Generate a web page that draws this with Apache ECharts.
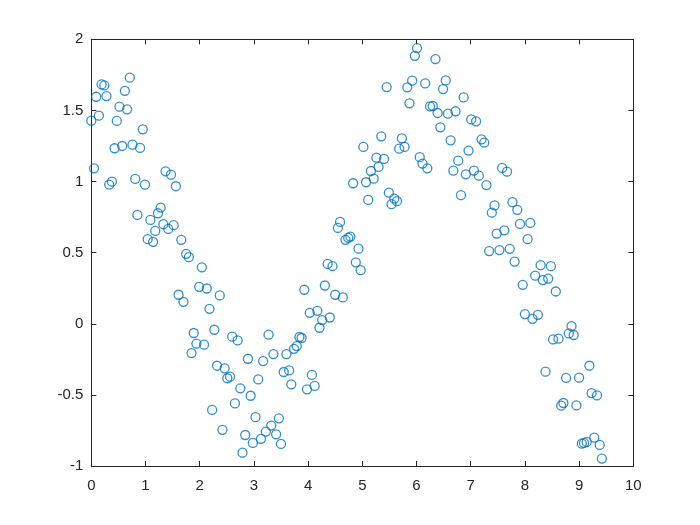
<!DOCTYPE html>
<html>
<head>
<meta charset="utf-8">
<script src="https://cdn.jsdelivr.net/npm/echarts@6/dist/echarts.min.js"></script>
<style>html,body{margin:0;padding:0;background:#fff;}#c{width:700px;height:525px;}</style>
</head>
<body>
<div id="c"></div>
<script>
var xValues = [0.00,0.05,0.09,0.14,0.19,0.24,0.28,0.33,0.38,0.43,0.47,0.52,0.57,0.62,0.66,0.71,0.76,0.81,0.85,0.90,
0.95,0.99,1.04,1.09,1.14,1.18,1.23,1.28,1.33,1.37,1.42,1.47,1.52,1.56,1.61,1.66,1.70,1.75,1.80,1.85,
1.89,1.94,1.99,2.04,2.08,2.13,2.18,2.23,2.27,2.32,2.37,2.42,2.46,2.51,2.56,2.60,2.65,2.70,2.75,2.79,
2.84,2.89,2.94,2.98,3.03,3.08,3.13,3.17,3.22,3.27,3.32,3.36,3.41,3.46,3.50,3.55,3.60,3.65,3.69,3.74,
3.79,3.84,3.88,3.93,3.98,4.03,4.07,4.12,4.17,4.21,4.26,4.31,4.36,4.40,4.45,4.50,4.55,4.59,4.64,4.69,
4.74,4.78,4.83,4.88,4.93,4.97,5.02,5.07,5.11,5.16,5.21,5.26,5.30,5.35,5.40,5.45,5.49,5.54,5.59,5.64,
5.68,5.73,5.78,5.83,5.87,5.92,5.97,6.01,6.06,6.11,6.16,6.20,6.25,6.30,6.35,6.39,6.44,6.49,6.54,6.58,
6.63,6.68,6.72,6.77,6.82,6.87,6.91,6.96,7.01,7.06,7.10,7.15,7.20,7.25,7.29,7.34,7.39,7.44,7.48,7.53,
7.58,7.62,7.67,7.72,7.77,7.81,7.86,7.91,7.96,8.00,8.05,8.10,8.14,8.19,8.24,8.29,8.33,8.38,8.43,8.48,
8.52,8.57,8.62,8.67,8.71,8.76,8.81,8.86,8.90,8.95,9.00,9.05,9.09,9.14,9.19,9.23,9.28,9.33,9.38,9.42];

var yValues = [1.428,1.093,1.596,1.463,1.683,1.676,1.601,0.978,0.999,1.234,1.426,1.526,1.250,1.638,1.508,1.730,1.259,1.018,0.765,1.236,
1.367,0.978,0.595,0.730,0.576,0.653,0.777,0.817,0.700,1.072,0.667,1.048,0.693,0.967,0.204,0.590,0.154,0.492,0.468,-0.206,
-0.065,-0.140,0.260,0.397,-0.147,0.248,0.105,-0.606,-0.042,-0.295,0.199,-0.746,-0.313,-0.383,-0.372,-0.091,-0.560,-0.117,-0.454,-0.906,
-0.782,-0.246,-0.506,-0.838,-0.657,-0.391,-0.809,-0.262,-0.758,-0.077,-0.716,-0.213,-0.777,-0.665,-0.845,-0.339,-0.213,-0.328,-0.426,-0.176,
-0.157,-0.093,-0.100,0.239,-0.461,0.077,-0.360,-0.437,0.091,-0.028,0.026,0.269,0.421,0.044,0.405,0.204,0.674,0.716,0.185,0.590,
0.604,0.613,0.988,0.432,0.528,0.377,1.243,0.995,0.871,1.074,1.020,1.168,1.103,1.318,1.159,1.664,0.922,0.841,0.880,0.862,
1.231,1.304,1.243,1.662,1.550,1.709,1.884,1.938,1.171,1.126,1.690,1.093,1.529,1.531,1.861,1.482,1.381,1.650,1.711,1.477,
1.290,1.076,1.494,1.147,0.904,1.591,1.051,1.218,1.437,1.077,1.423,1.041,1.297,1.273,0.975,0.511,0.781,0.832,0.634,0.518,
1.096,0.657,1.069,0.527,0.855,0.437,0.801,0.702,0.274,0.068,0.595,0.709,0.035,0.338,0.063,0.412,0.307,-0.337,0.318,0.405,
-0.110,0.227,-0.105,-0.576,-0.557,-0.381,-0.068,-0.016,-0.079,-0.574,-0.379,-0.843,-0.838,-0.831,-0.295,-0.487,-0.801,-0.504,-0.852,-0.948];

var xTicks = [0,1,2,3,4,5,6,7,8,9,10];
var yTicks = [-1,-0.5,0,0.5,1,1.5,2];

var points = xValues.map(function (x, i) { return [x, yValues[i]]; });

var axisColor = '#262626';
var font = '"Liberation Sans", Arial, sans-serif';

function xAxisDef(pos, showLabel) {
  return {
    type: 'value', position: pos, min: xTicks[0], max: xTicks[xTicks.length - 1], interval: 1,
    axisLine: { show: true, onZero: false, lineStyle: { color: axisColor, width: 1 } },
    axisTick: { show: true, inside: true, length: 5, lineStyle: { color: axisColor, width: 1 } },
    axisLabel: { show: showLabel, color: axisColor, fontSize: 15, fontFamily: font, margin: 12 },
    splitLine: { show: false }
  };
}
function yAxisDef(pos, showLabel) {
  return {
    type: 'value', position: pos, min: yTicks[0], max: yTicks[yTicks.length - 1], interval: 0.5,
    axisLine: { show: true, onZero: false, lineStyle: { color: axisColor, width: 1 } },
    axisTick: { show: true, inside: true, length: 5, lineStyle: { color: axisColor, width: 1 } },
    axisLabel: { show: showLabel, color: axisColor, fontSize: 15, fontFamily: font, margin: 8 },
    splitLine: { show: false }
  };
}

var chart = echarts.init(document.getElementById('c'), null, { renderer: 'canvas' });
chart.setOption({
  backgroundColor: '#ffffff',
  animation: false,
  grid: { left: 91.3, right: 66.7, top: 39.3, bottom: 59, containLabel: false },
  xAxis: [xAxisDef('bottom', true), xAxisDef('top', false)],
  yAxis: [yAxisDef('left', true), yAxisDef('right', false)],
  series: [{
    type: 'scatter',
    xAxisIndex: 0, yAxisIndex: 0,
    data: points,
    symbol: 'circle',
    symbolSize: 9,
    itemStyle: { color: 'rgba(0,0,0,0)', borderColor: '#0072BD', borderWidth: 1.3 }
  }]
});
</script>
</body>
</html>
